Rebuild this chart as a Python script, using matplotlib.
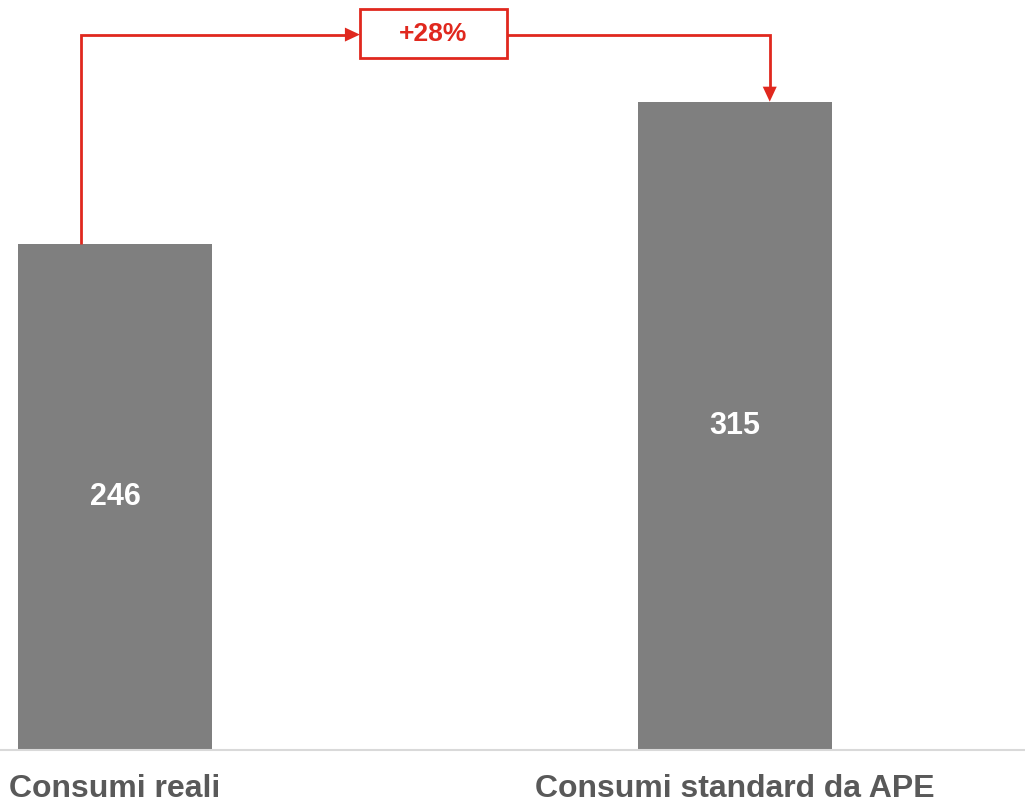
import matplotlib
matplotlib.use("Agg")
import matplotlib.pyplot as plt
from matplotlib.patches import Rectangle

categories = ["Consumi reali", "Consumi standard da APE"]
values = [246, 315]
change_label = "+28%"

BAR_COLOR = "#7f7f7f"
RED = "#e0281e"
TEXT_GRAY = "#595959"
FONT = ["Liberation Sans", "DejaVu Sans"]

fig = plt.figure(figsize=(10.25, 8.02), dpi=100)
ax = fig.add_axes([0, 0.0648, 1, 0.9352])

x = [0, 1]
bw = 0.3129
ax.bar(x, values, width=bw, color=BAR_COLOR, zorder=2)
ax.set_xlim(-0.1855, 1.4677)
ax.set_ylim(0, 364.4)

for xi, v in zip(x, values):
    ax.text(xi, v / 2, str(v), ha="center", va="center", color="white",
            fontsize=22, fontweight="bold", family=FONT)

ax.set_xticks(x)
ax.set_xticklabels(categories, fontsize=23, fontweight="bold", color=TEXT_GRAY, family=FONT)
ax.tick_params(axis="x", length=0, pad=17)
ax.set_yticks([])
for s in ["top", "right", "left"]:
    ax.spines[s].set_visible(False)
ax.spines["bottom"].set_color("#d9d9d9")
ax.spines["bottom"].set_linewidth(1.5)

# growth annotation (connector with arrowheads)
px_x = 1 / 620.0     # data units per pixel (x)
px_y = 1 / 2.058     # data units per pixel (y)
x_start = -0.0548
x_end = 1.056
y_line = 347.6
box_x0, box_x1 = 0.395, 0.632
box_y0, box_y1 = 336.2, 360.0
lw = 2.0
hl, hw = 15, 7   # arrow head length / half width in pixels

ax.plot([x_start, x_start, box_x0 - hl * px_x], [values[0], y_line, y_line], color=RED, lw=lw,
        solid_joinstyle="miter", solid_capstyle="butt", zorder=3)
ax.fill([box_x0, box_x0 - hl * px_x, box_x0 - hl * px_x],
        [y_line, y_line + hw * px_y, y_line - hw * px_y], color=RED, lw=0, zorder=3)
ax.plot([box_x1, x_end, x_end], [y_line, y_line, values[1] + hl * px_y], color=RED, lw=lw,
        solid_joinstyle="miter", solid_capstyle="butt", zorder=3)
ax.fill([x_end, x_end - hw * px_x, x_end + hw * px_x],
        [values[1], values[1] + hl * px_y, values[1] + hl * px_y], color=RED, lw=0, zorder=3)
ax.add_patch(Rectangle((box_x0, box_y0), box_x1 - box_x0, box_y1 - box_y0, fill=True,
                       facecolor="white", edgecolor=RED, lw=lw, zorder=4))
ax.text((box_x0 + box_x1) / 2, (box_y0 + box_y1) / 2, change_label, ha="center", va="center",
        color=RED, fontsize=19, fontweight="bold", family=FONT, zorder=5)

fig.savefig("out.png", dpi=100, facecolor="white")
